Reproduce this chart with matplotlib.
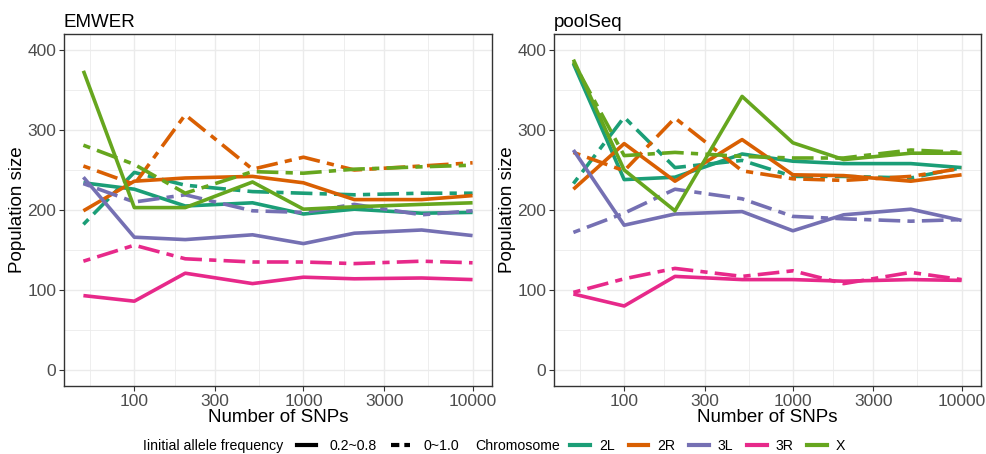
import matplotlib
matplotlib.use("Agg")
import matplotlib.pyplot as plt
from matplotlib.lines import Line2D
import numpy as np

plt.rcParams['font.family'] = ['Liberation Sans', 'DejaVu Sans']

snps = [50, 100, 200, 500, 1000, 2000, 5000, 10000]
chromosomes = ["2L", "2R", "3L", "3R", "X"]
freq_labels = ["0.2~0.8", "0~1.0"]

# EMWER estimates: solid = 0.2~0.8, dashed = 0~1.0
emwer_mid = {
    "2L": [234, 226, 205, 209, 195, 201, 196, 197],
    "2R": [199, 236, 240, 242, 234, 213, 213, 218],
    "3L": [241, 166, 163, 169, 158, 171, 175, 168],
    "3R": [93, 86, 121, 108, 116, 114, 115, 113],
    "X":  [374, 203, 203, 235, 201, 204, 207, 209],
}
emwer_full = {
    "2L": [182, 247, 231, 223, 221, 219, 221, 221],
    "2R": [255, 232, 319, 251, 266, 250, 255, 259],
    "3L": [233, 210, 219, 199, 197, 207, 194, 199],
    "3R": [136, 156, 139, 135, 135, 133, 136, 134],
    "X":  [281, 257, 221, 248, 246, 251, 254, 256],
}

# poolSeq estimates
pool_mid = {
    "2L": [383, 238, 241, 270, 261, 258, 258, 253],
    "2R": [226, 283, 236, 288, 244, 243, 236, 244],
    "3L": [275, 181, 195, 198, 174, 194, 201, 187],
    "3R": [95, 80, 117, 113, 113, 111, 113, 112],
    "X":  [388, 250, 199, 342, 284, 263, 271, 271],
}
pool_full = {
    "2L": [233, 316, 253, 262, 242, 242, 240, 253],
    "2R": [272, 249, 315, 249, 239, 237, 242, 252],
    "3L": [172, 196, 226, 214, 192, 189, 186, 188],
    "3R": [97, 114, 127, 117, 124, 108, 122, 113],
    "X":  [385, 268, 272, 267, 265, 265, 275, 272],
}

colors = {"2L": "#1B9E77", "2R": "#D95F02", "3L": "#7570B3",
          "3R": "#E7298A", "X": "#66A61E"}
twodash = (0, (2, 2, 6, 2))
LW = 2.6

xticks = [100, 300, 1000, 3000, 10000]
xminor = [np.sqrt(30 * 100), np.sqrt(100 * 300), np.sqrt(300 * 1000),
          np.sqrt(1000 * 3000), np.sqrt(3000 * 10000)]

fig = plt.figure(figsize=(9.87, 4.54), dpi=100)
ax1 = fig.add_axes([0.0648, 0.1498, 0.4337, 0.7753])
ax2 = fig.add_axes([0.5613, 0.1498, 0.4326, 0.7753])


def draw_panel(ax, title, mid, full):
    for chrom in chromosomes:
        ax.plot(snps, mid[chrom], color=colors[chrom], lw=LW, ls='-',
                solid_capstyle='butt')
        ax.plot(snps, full[chrom], color=colors[chrom], lw=LW, ls=twodash,
                dash_capstyle='butt')
    ax.set_xscale('log')
    ax.set_xlim(10 ** 1.584, 10 ** 4.115)
    ax.set_ylim(-20, 420)
    ax.set_xticks(xticks)
    ax.set_xticklabels([str(t) for t in xticks])
    ax.set_xticks(xminor, minor=True)
    ax.set_yticks([0, 100, 200, 300, 400])
    ax.set_yticks([50, 150, 250, 350], minor=True)
    ax.grid(which='major', color='#EBEBEB', lw=1.0)
    ax.grid(which='minor', color='#EBEBEB', lw=0.6)
    ax.set_axisbelow(True)
    ax.tick_params(which='major', length=3.5, width=0.8, color='#333333',
                   labelsize=12.5, labelcolor='#4D4D4D', pad=2)
    ax.tick_params(which='minor', length=0)
    for s in ax.spines.values():
        s.set_color('#333333')
        s.set_linewidth(1.0)
    ax.set_xlabel("Number of SNPs", fontsize=13.5, labelpad=0)
    ax.set_ylabel("Population size", fontsize=13.5, labelpad=1)
    ax.set_title(title, loc='left', fontsize=13.5, pad=5)


draw_panel(ax1, "EMWER", emwer_mid, emwer_full)
draw_panel(ax2, "poolSeq", pool_mid, pool_full)

# bottom legends
fig.text(0.145, 0.018, "Iinitial allele frequency", fontsize=10.2,
         va='center', ha='left')
freq_handles = [Line2D([], [], color='black', lw=3, ls='-'),
                Line2D([], [], color='black', lw=3, ls=(0, (2, 1.2, 2, 1.2)))]
fig.legend(freq_handles, freq_labels, loc='center left',
           bbox_to_anchor=(0.301, 0.018), ncol=2, frameon=False,
           fontsize=10.2, handlelength=1.3, handletextpad=1.0,
           columnspacing=1.0, borderpad=0, borderaxespad=0)

fig.text(0.482, 0.018, "Chromosome", fontsize=10.2, va='center', ha='left')
chrom_handles = [Line2D([], [], color=colors[c], lw=3) for c in chromosomes]
fig.legend(chrom_handles, chromosomes, loc='center left',
           bbox_to_anchor=(0.578, 0.018), ncol=5, frameon=False,
           fontsize=10.2, handlelength=1.4, handletextpad=0.6,
           columnspacing=1.0, borderpad=0, borderaxespad=0)

fig.savefig("out.png", dpi=100)
